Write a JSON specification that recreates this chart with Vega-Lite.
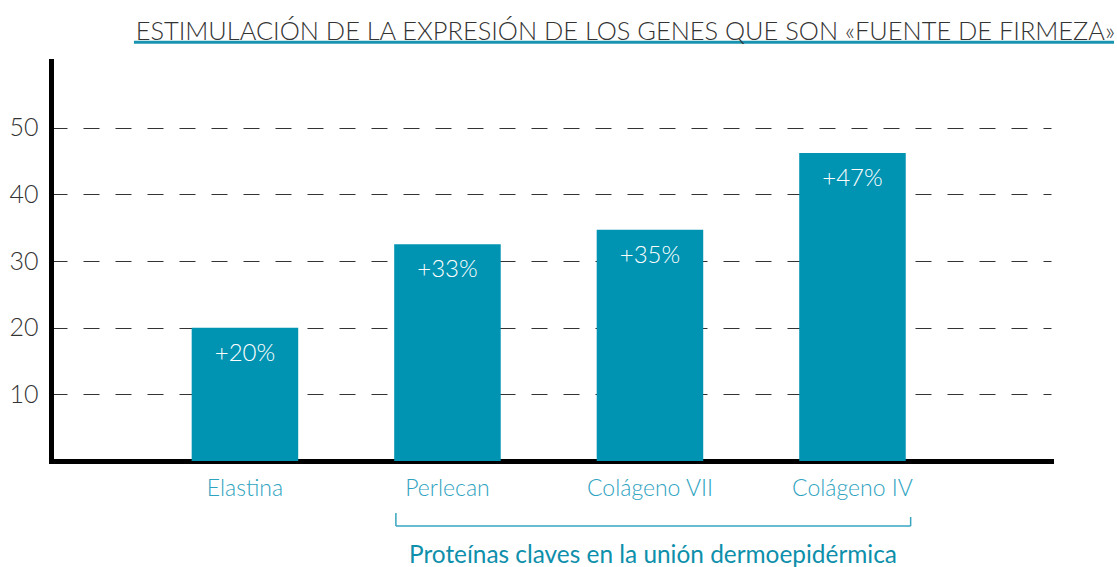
{
  "$schema": "https://vega.github.io/schema/vega-lite/v6.json",
  "width": 1000,
  "height": 400,
  "autosize": {"type": "none"},
  "padding": {"left": 51, "top": 61, "right": 66, "bottom": 106},
  "background": "white",
  "title": {
    "text": "ESTIMULACIÓN DE LA EXPRESIÓN DE LOS GENES QUE SON «FUENTE DE FIRMEZA»",
    "anchor": "end",
    "frame": "group",
    "dx": 64,
    "offset": -24.7,
    "baseline": "alphabetic",
    "font": "Lato",
    "fontWeight": 300,
    "fontSize": 25.4,
    "color": "#333333"
  },
  "data": {
    "values": [
      {"gen": "Elastina", "valor": 20, "etiqueta": "+20%"},
      {"gen": "Perlecan", "valor": 32.5, "etiqueta": "+33%"},
      {"gen": "Colágeno VII", "valor": 34.7, "etiqueta": "+35%"},
      {"gen": "Colágeno IV", "valor": 46.2, "etiqueta": "+47%"}
    ]
  },
  "config": {
    "view": {"stroke": null},
    "font": "Lato"
  },
  "layer": [
    {
      "mark": {"type": "bar", "color": "#0093b2"},
      "encoding": {
        "x": {
          "field": "gen",
          "type": "nominal",
          "sort": null,
          "scale": {"paddingInner": 0.474, "paddingOuter": 0.706, "align": 0.492},
          "axis": {
            "title": null,
            "labelAngle": 0,
            "domain": true,
            "domainColor": "#000000",
            "domainWidth": 5,
            "domainCap": "square",
            "ticks": false,
            "tickSize": 0,
            "labelPadding": 16,
            "labelFont": "Lato",
            "labelFontWeight": 300,
            "labelFontSize": 23,
            "labelColor": "#2ea3bf",
            "grid": false
          }
        },
        "y": {
          "field": "valor",
          "type": "quantitative",
          "scale": {"domain": [0, 60], "nice": false},
          "axis": {
            "title": null,
            "values": [10, 20, 30, 40, 50],
            "domain": true,
            "domainColor": "#000000",
            "domainWidth": 5,
            "domainCap": "square",
            "ticks": false,
            "tickSize": 0,
            "labelPadding": 13,
            "labelFont": "Lato",
            "labelFontWeight": 300,
            "labelFontSize": 25,
            "labelColor": "#333333",
            "grid": true,
            "gridColor": "#333333",
            "gridWidth": 1,
            "gridDash": [16, 16]
          }
        }
      }
    },
    {
      "mark": {"type": "text", "color": "white", "font": "Lato", "fontWeight": 300, "fontSize": 24, "baseline": "alphabetic", "dy": 33},
      "encoding": {
        "x": {"field": "gen", "type": "nominal", "sort": null},
        "y": {"field": "valor", "type": "quantitative"},
        "text": {"field": "etiqueta"}
      }
    },
    {
      "data": {"values": [{}]},
      "mark": {"type": "rule", "color": "#36a5c0", "strokeWidth": 1.5},
      "encoding": {
        "x": {"datum": "Perlecan", "bandPosition": 0.016},
        "x2": {"datum": "Colágeno IV", "bandPosition": 1.046},
        "y": {"datum": -9.75}
      }
    },
    {
      "data": {"values": [{}]},
      "mark": {"type": "rule", "color": "#36a5c0", "strokeWidth": 1.5},
      "encoding": {
        "x": {"datum": "Perlecan", "bandPosition": 0.016},
        "y": {"datum": -7.8},
        "y2": {"datum": -9.75}
      }
    },
    {
      "data": {"values": [{}]},
      "mark": {"type": "rule", "color": "#36a5c0", "strokeWidth": 1.5},
      "encoding": {
        "x": {"datum": "Colágeno IV", "bandPosition": 1.046},
        "y": {"datum": -8.4},
        "y2": {"datum": -9.75}
      }
    },
    {
      "data": {"values": [{"texto": "Proteínas claves en la unión dermoepidérmica"}]},
      "mark": {"type": "text", "color": "#0e8fab", "font": "Lato", "fontSize": 24.4, "baseline": "alphabetic", "dx": 3},
      "encoding": {
        "x": {"datum": "Colágeno VII", "bandPosition": 0.5},
        "y": {"datum": -15.3},
        "text": {"field": "texto"}
      }
    },
    {
      "data": {"values": [{}]},
      "mark": {"type": "rule", "color": "#1a93b0", "strokeWidth": 3},
      "encoding": {
        "x": {"datum": "Elastina", "bandPosition": -0.542},
        "x2": {"datum": "Colágeno IV", "bandPosition": 2.955},
        "y": {"datum": 62.8}
      }
    }
  ]
}
